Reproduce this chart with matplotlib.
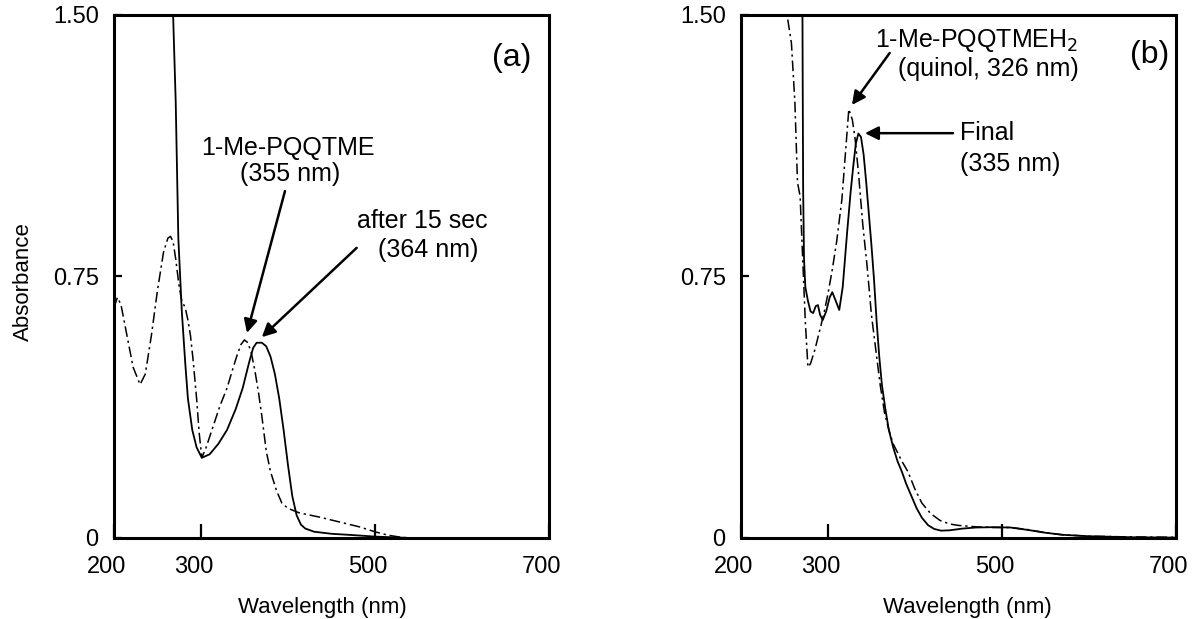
import matplotlib
matplotlib.use("Agg")
import matplotlib.pyplot as plt
import matplotlib.transforms as mtransforms

plt.rcParams["font.family"] = ["Liberation Sans", "DejaVu Sans"]

# panel (a): 1-Me-PQQTME (dash-dot) and after 15 sec (solid)
a_wl_dash = [200, 204, 208, 215, 222, 230, 236, 243, 250, 257, 262, 265, 268, 271, 275,
             278, 282, 285, 288, 291, 295, 298, 301, 306, 314, 322, 330, 336, 341, 346,
             350, 354, 358, 362, 366, 370, 375, 380, 387, 393, 400, 413, 436, 459, 482,
             501, 515, 530, 540]
a_abs_dash = [0.66, 0.69, 0.67, 0.58, 0.49, 0.44, 0.47, 0.58, 0.71, 0.82, 0.86, 0.865, 0.85,
              0.80, 0.72, 0.68, 0.66, 0.625, 0.58, 0.51, 0.40, 0.30, 0.23, 0.26, 0.32, 0.38,
              0.43, 0.48, 0.52, 0.555, 0.568, 0.56, 0.53, 0.48, 0.42, 0.35, 0.25, 0.19, 0.135,
              0.10, 0.085, 0.072, 0.06, 0.046, 0.032, 0.017, 0.008, 0.002, 0.0]

a_wl_solid = [267, 268, 271, 274, 278, 282, 285, 290, 295, 301, 310, 320, 330, 340, 348, 355,
              360, 364, 370, 375, 380, 385, 390, 395, 400, 405, 410, 415, 420, 430, 450, 470,
              500, 530, 540]
a_abs_solid = [1.65, 1.5, 1.25, 0.86, 0.65, 0.50, 0.40, 0.31, 0.26, 0.23, 0.24, 0.27, 0.31,
               0.37, 0.43, 0.50, 0.545, 0.56, 0.56, 0.55, 0.52, 0.47, 0.40, 0.31, 0.21, 0.12,
               0.065, 0.038, 0.027, 0.018, 0.012, 0.009, 0.004, 0.001, 0.0]

# panel (b): quinol (dash-dot) and final (solid)
b_wl_dash = [250, 253, 258, 262, 265, 268, 271, 274, 277, 280, 285, 290, 295, 300, 305, 310,
             316, 320, 324, 328, 331, 335, 340, 345, 350, 355, 360, 365, 370, 375, 380, 385,
             392, 400, 408, 418, 429, 440, 450, 470, 490, 510, 530, 550, 570, 600, 650, 700]
b_abs_dash = [1.65, 1.5, 1.42, 1.25, 1.02, 0.98, 0.80, 0.62, 0.49, 0.50, 0.54, 0.59, 0.64,
              0.70, 0.77, 0.85, 0.97, 1.10, 1.23, 1.20, 1.15, 1.05, 0.90, 0.78, 0.64, 0.54,
              0.44, 0.36, 0.31, 0.27, 0.245, 0.22, 0.19, 0.14, 0.10, 0.07, 0.05, 0.04, 0.036,
              0.032, 0.03, 0.03, 0.024, 0.015, 0.009, 0.005, 0.003, 0.002]

b_wl_solid = [270.5, 271, 271.5, 272.5, 274, 277, 280, 283, 286, 288.5, 291, 294, 298, 302,
              305, 309, 313, 317, 322, 326, 329, 332, 335, 338, 341, 344, 347, 350, 353, 356,
              359, 362, 366, 370, 375, 380, 385, 390, 396, 402, 408, 415, 422, 430, 440, 455,
              470, 490, 510, 530, 550, 570, 600, 650, 700]
b_abs_solid = [1.65, 1.3, 1.0, 0.80, 0.72, 0.68, 0.65, 0.645, 0.665, 0.668, 0.64, 0.625, 0.65,
               0.69, 0.705, 0.68, 0.654, 0.72, 0.875, 0.99, 1.064, 1.13, 1.16, 1.15, 1.10,
               1.02, 0.93, 0.84, 0.74, 0.62, 0.52, 0.44, 0.37, 0.31, 0.26, 0.22, 0.19, 0.155,
               0.12, 0.085, 0.058, 0.037, 0.026, 0.021, 0.022, 0.027, 0.03, 0.031, 0.03, 0.023,
               0.015, 0.009, 0.005, 0.002, 0.001]

x_ticks = [200, 300, 500, 700]
x_ticklabels = ["200", "300", "500", "700"]
y_ticks = [0, 0.75, 1.5]
y_ticklabels = ["0", "0.75", "1.50"]

dashdot = (0, (7, 2.5, 1.5, 2.5))

fig = plt.figure(figsize=(11.92, 6.19), dpi=100)
ax1 = fig.add_axes([0.0956, 0.1309, 0.3649, 0.8449])
ax2 = fig.add_axes([0.6216, 0.1309, 0.3649, 0.8449])

shift = mtransforms.ScaledTranslation(-7 / 100, 0, fig.dpi_scale_trans)

for ax in (ax1, ax2):
    ax.set_xlim(200, 700)
    ax.set_ylim(0, 1.5)
    ax.set_xticks(x_ticks)
    ax.set_xticklabels(x_ticklabels)
    ax.set_yticks(y_ticks)
    ax.set_yticklabels(y_ticklabels)
    ax.tick_params(axis="x", direction="in", length=10, width=1.6, pad=13, labelsize=17)
    ax.tick_params(axis="y", direction="in", length=6, width=1.6, pad=11, labelsize=17)
    for lab in ax.get_xticklabels():
        lab.set_transform(lab.get_transform() + shift)
    for s in ax.spines.values():
        s.set_linewidth(2.2)
    ax.set_xlabel("Wavelength (nm)", fontsize=16)

ax1.set_ylabel("Absorbance", fontsize=16)
ax1.yaxis.set_label_coords(-0.185, 0.49)
ax1.xaxis.set_label_coords(0.48, -0.112)
ax2.xaxis.set_label_coords(0.52, -0.112)

arrow = dict(arrowstyle="-|>", color="black", lw=1.8, mutation_scale=20,
             shrinkA=0, shrinkB=0)

# (a)
ax1.plot(a_wl_dash, a_abs_dash, color="black", lw=1.1, linestyle=dashdot)
ax1.plot(a_wl_solid, a_abs_solid, color="black", lw=1.3)
ax1.text(0.915, 0.918, "(a)", transform=ax1.transAxes, fontsize=23, ha="center", va="center")
ax1.text(400, 1.118, "1-Me-PQQTME", fontsize=18, ha="center", va="center")
ax1.text(403, 1.044, "(355 nm)", fontsize=18, ha="center", va="center")
ax1.annotate("", xy=(352.9, 0.588), xytext=(396.6, 0.995), arrowprops=arrow)
ax1.text(554, 0.91, "after 15 sec", fontsize=18, ha="center", va="center")
ax1.text(561, 0.825, "(364 nm)", fontsize=18, ha="center", va="center")
ax1.annotate("", xy=(370, 0.576), xytext=(479, 0.832), arrowprops=arrow)

# (b)
ax2.plot(b_wl_dash, b_abs_dash, color="black", lw=1.1, linestyle=dashdot)
ax2.plot(b_wl_solid, b_abs_solid, color="black", lw=1.3)
ax2.text(0.94, 0.923, "(b)", transform=ax2.transAxes, fontsize=23, ha="center", va="center")
ax2.text(354, 1.428, "1-Me-PQQTMEH$_2$", fontsize=18, ha="left", va="center")
ax2.text(380.5, 1.345, "(quinol, 326 nm)", fontsize=18, ha="left", va="center")
ax2.annotate("", xy=(327.6, 1.242), xytext=(371, 1.391), arrowprops=arrow)
ax2.text(451.7, 1.161, "Final", fontsize=18, ha="left", va="center")
ax2.text(451.7, 1.073, "(335 nm)", fontsize=18, ha="left", va="center")
ax2.annotate("", xy=(342.5, 1.161), xytext=(443.7, 1.161), arrowprops=arrow)

fig.savefig("out.png", dpi=100)
